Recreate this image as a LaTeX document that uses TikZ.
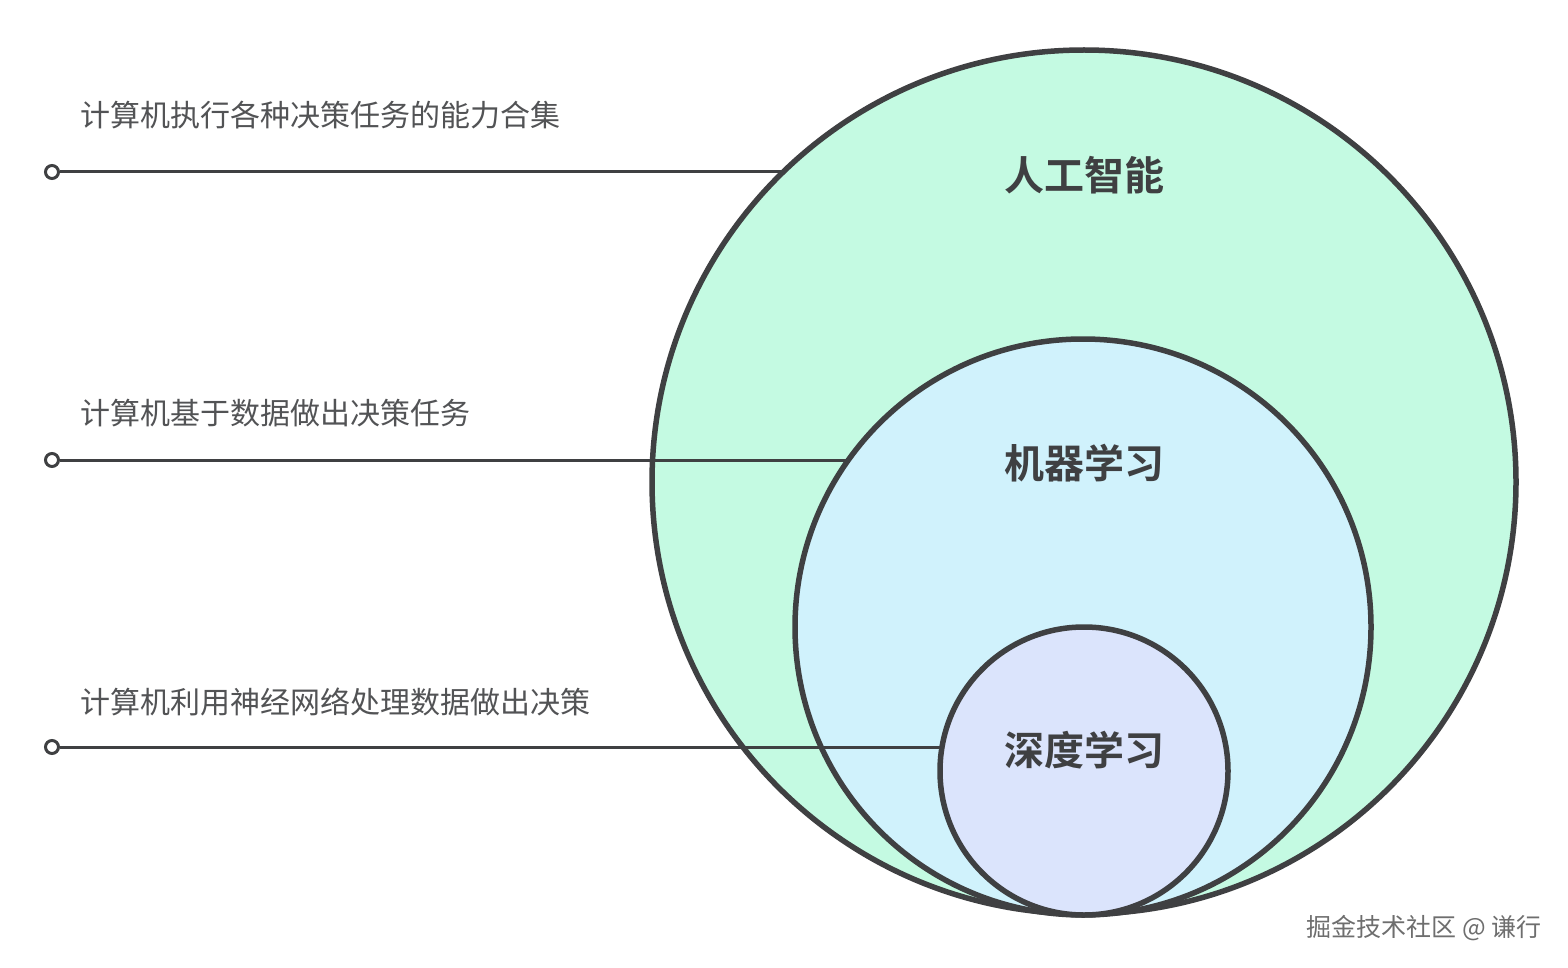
\documentclass[tikz,border=0pt]{standalone}
\usepackage{fontspec}
\setmainfont{Noto Sans CJK SC}
\newfontfamily\cjkbold{Noto Sans CJK SC Bold}
\definecolor{ink}{HTML}{3F4042}
\definecolor{aigreen}{RGB}{196,250,226}
\definecolor{mlblue}{RGB}{208,242,252}
\definecolor{dllav}{RGB}{219,228,252}
\definecolor{wmgray}{RGB}{110,110,110}
\tikzset{
  ring/.style={circle, draw=ink, line width=5.5pt, inner sep=0pt, outer sep=0pt},
  lead/.style={draw=ink, line width=3pt},
  dot/.style={circle, draw=ink, fill=white, line width=3pt, minimum size=13pt, inner sep=0pt},
  desc/.style={anchor=west, inner sep=0pt, text=ink!90, font=\fontsize{30}{32}\selectfont},
  title/.style={text=ink, font=\cjkbold\fontsize{40}{42}\selectfont},
}
\begin{document}
\begin{tikzpicture}[x=1pt,y=-1pt]
\useasboundingbox[fill=white] (0,0) rectangle (1568,968);
% circles
\node[ring, fill=aigreen, minimum size=864pt] (ai) at (1084,482) {};
\node[ring, fill=mlblue, minimum size=576pt] (ml) at (1083,627) {};
\node[ring, fill=dllav, minimum size=288pt] (dl) at (1084,771) {};
% titles
\node[title] (tai) at (1084,175) {人工智能};
\node[title] (tml) at (1084,463) {机器学习};
\node[title] (tdl) at (1084,750) {深度学习};
% descriptions
\node[desc] (l1) at (80,115) {计算机执行各种决策任务的能力合集};
\node[desc] (l2) at (80,413) {计算机基于数据做出决策任务};
\node[desc] (l3) at (80,702) {计算机利用神经网络处理数据做出决策};
% leader lines
\coordinate (e1) at (ai.134.2);
\coordinate (e2) at (ml.144.6);
\coordinate (e3) at (dl.170.4);
\node[dot] (d1) at (52,172) {};
\node[dot] (d2) at (52,460) {};
\node[dot] (d3) at (52,747) {};
\draw[lead] (d1.east) -- (d1.east -| e1);
\draw[lead] (d2.east) -- (d2.east -| e2);
\draw[lead] (d3.east) -- (d3.east -| e3);
% watermark
\node[anchor=east, inner sep=0pt, text=white, font=\fontsize{25}{27}\selectfont] (wm0) at (1543.5,929.5) {掘金技术社区 @ 谦行};
\node[anchor=east, inner sep=0pt, text=wmgray, font=\fontsize{25}{27}\selectfont] (wm) at (1542,928) {掘金技术社区 @ 谦行};
\end{tikzpicture}
\end{document}
